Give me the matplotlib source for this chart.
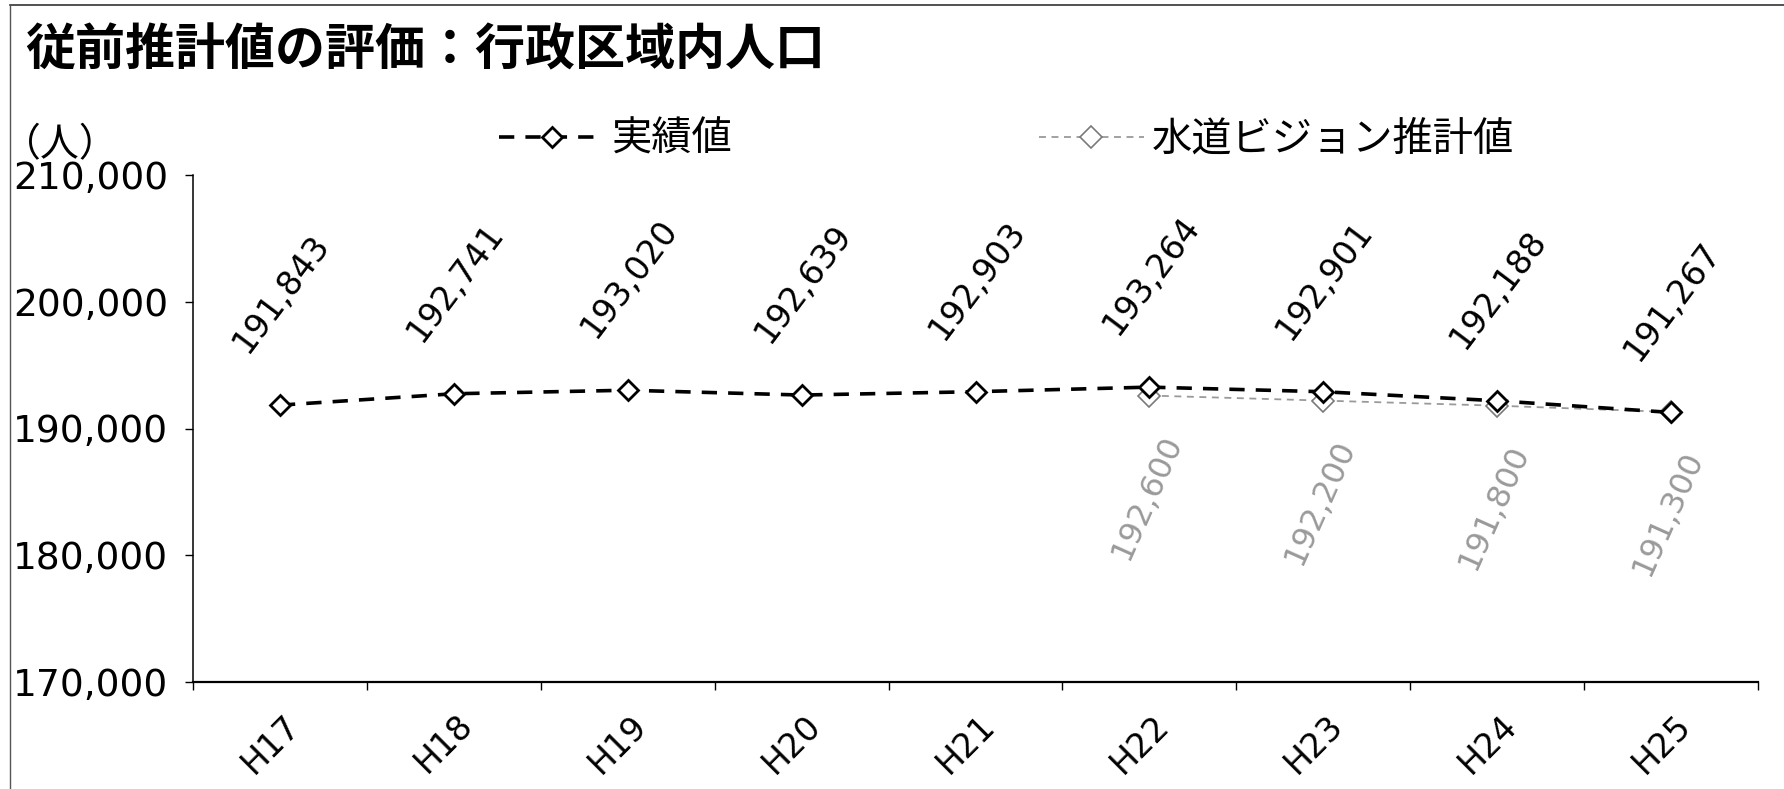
import matplotlib
matplotlib.use("Agg")
import matplotlib.pyplot as plt
import matplotlib.transforms as mtransforms
from matplotlib.lines import Line2D
from matplotlib.ticker import FuncFormatter
import numpy as np

# --- data -------------------------------------------------------------
years = ["H17", "H18", "H19", "H20", "H21", "H22", "H23", "H24", "H25"]
actual = [191843, 192741, 193020, 192639, 192903, 193264, 192901, 192188, 191267]
plan_years = ["H22", "H23", "H24", "H25"]
plan = [192600, 192200, 191800, 191300]

title = "従前推計値の評価：行政区域内人口"
unit_label = "（人）"
actual_name = "実績値"
plan_name = "水道ビジョン推計値"
y_ticks = [170000, 180000, 190000, 200000, 210000]

# --- style ------------------------------------------------------------
plt.rcParams["lines.scale_dashes"] = False
JP = ["Noto Sans CJK JP", "DejaVu Sans"]
NUM = ["DejaVu Sans", "Noto Sans CJK JP"]
plan_color = "#9a9a9a"

W, H = 1784, 789
fig = plt.figure(figsize=(W / 100, H / 100), dpi=100)
ax = fig.add_axes([193 / W, 1 - 682 / H, (1758 - 193) / W, (682 - 175) / H])

x = np.arange(len(years))
xp = np.array([years.index(y) for y in plan_years])

ax.plot(x, actual, color="black", lw=2.6, dashes=(11, 8),
        marker="D", markersize=10.5, markerfacecolor="white",
        markeredgecolor="black", markeredgewidth=2.0, zorder=4,
        label=actual_name)
ax.plot(xp, plan, color=plan_color, lw=1.3, dashes=(5, 4),
        marker="D", markersize=11, markerfacecolor="white",
        markeredgecolor="#7a7a7a", markeredgewidth=1.2, zorder=3,
        label=plan_name)

# value labels
for xi, v in zip(x, actual):
    ax.annotate(f"{v:,}", (xi, v), xytext=(1, 80), textcoords="offset points",
                ha="center", va="center", rotation=53, rotation_mode="anchor",
                fontsize=24, family=NUM, color="black")
for xi, v in zip(xp, plan):
    ax.annotate(f"{v:,}", (xi, v), xytext=(-2, -73), textcoords="offset points",
                ha="center", va="center", rotation=66, rotation_mode="anchor",
                fontsize=23, family=NUM, color=plan_color)

# axes
ax.set_xlim(-0.5, len(years) - 0.5)
ax.set_ylim(170000, 210000)
ax.set_yticks(y_ticks)
ax.yaxis.set_major_formatter(FuncFormatter(lambda v, p: f"{int(v):,}"))
ax.set_xticks(np.arange(-0.5, len(years), 1.0))
ax.set_xticklabels([])
ax.set_xticks(x, minor=True)
ax.set_xticklabels(years, minor=True, rotation=45, ha="right", va="top",
                   fontsize=24, family=NUM)
ax.tick_params(axis="x", which="minor", length=0, pad=19)
ax.tick_params(axis="x", which="major", length=6, width=1.0, direction="out")
ax.tick_params(axis="y", length=6, width=1.0, direction="out", pad=12,
               labelsize=27)
for lbl in ax.get_yticklabels():
    lbl.set_family(NUM)
shift = mtransforms.ScaledTranslation(26 / 100, 0, fig.dpi_scale_trans)
for lbl in ax.get_xticklabels(minor=True):
    lbl.set_transform(lbl.get_transform() + shift)

for s in ("top", "right"):
    ax.spines[s].set_visible(False)
ax.spines["left"].set_linewidth(1.1)
ax.spines["bottom"].set_linewidth(1.6)

# legend
leg = ax.legend(loc="center", bbox_to_anchor=(0.52, 1.07), ncol=2,
                frameon=False, handlelength=2.6, handletextpad=0.2,
                columnspacing=7.6, prop={"family": JP, "size": 29})

# titles
fig.text(25 / W, 1 - 51 / H, title, ha="left", va="center",
         fontsize=36, fontweight="bold", family=JP)
fig.text(2 / W, 1 - 145 / H, unit_label, ha="left", va="center",
         fontsize=28, family=JP)

# page frame
fig.add_artist(Line2D([10 / W, 1], [1 - 5 / H, 1 - 5 / H], transform=fig.transFigure,
                      color="#333333", lw=1.2))
fig.add_artist(Line2D([10 / W, 10 / W], [0, 1 - 5 / H], transform=fig.transFigure,
                      color="#555555", lw=1.0))

fig.savefig("out.png", dpi=100)
